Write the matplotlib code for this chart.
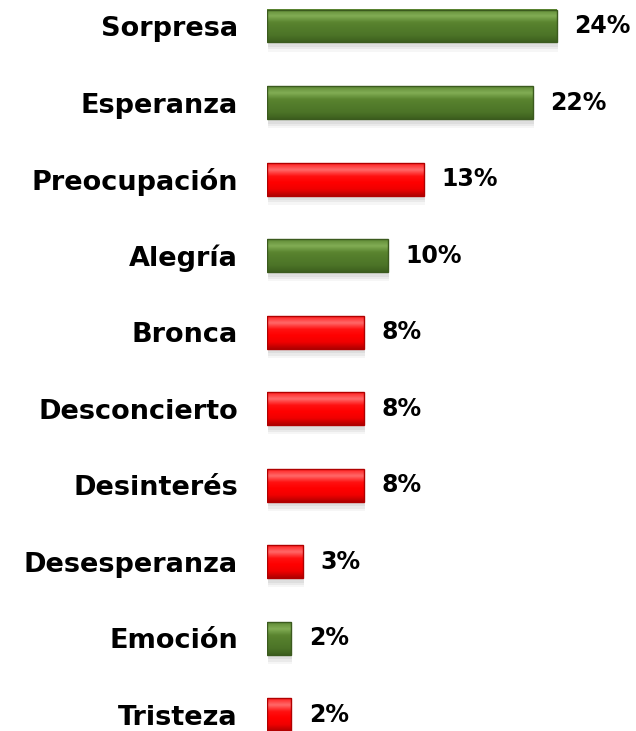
import numpy as np
import matplotlib.pyplot as plt
from matplotlib.colors import LinearSegmentedColormap

# datos
emociones = ["Sorpresa", "Esperanza", "Preocupación", "Alegría", "Bronca",
             "Desconcierto", "Desinterés", "Desesperanza", "Emoción", "Tristeza"]
porcentajes = [24, 22, 13, 10, 8, 8, 8, 3, 2, 2]
positiva = [True, True, False, True, False, False, False, False, True, False]

verde = ["#5f8a35", "#82ad55", "#5a842f", "#527b2b", "#4c7427", "#3d5f1e"]
rojo = ["#ff2020", "#ff6a6a", "#ff1010", "#ff0000", "#f00000", "#b00000"]

fig = plt.figure(figsize=(6.36, 7.31), dpi=100)
ax = fig.add_axes([267 / 636, 0, 1 - 267 / 636, 1])

y = np.arange(len(emociones))
alto = 0.43
bars = ax.barh(y, porcentajes, height=alto, color="none", edgecolor="none")

for b, pos in zip(bars, positiva):
    x0, y0, w, h = b.get_x(), b.get_y(), b.get_width(), b.get_height()
    # sombra
    for k, a in enumerate([0.35, 0.25, 0.15]):
        ax.add_patch(plt.Rectangle((x0 + 0.1, y0 + 0.06 + 0.03 * k), w, h,
                                   color="#c8c8c8", alpha=a, lw=0, zorder=1))
    cmap = LinearSegmentedColormap.from_list("g", verde if pos else rojo)
    grad = np.linspace(0, 1, 64).reshape(-1, 1)
    ax.imshow(grad, cmap=cmap, aspect="auto", extent=(x0, x0 + w, y0 + h, y0),
              zorder=2, interpolation="bicubic")
    ax.add_patch(plt.Rectangle((x0, y0), w, h, fill=False,
                               edgecolor="#3b5a1e" if pos else "#b00000",
                               lw=1.0, zorder=3))

for yi, v in zip(y, porcentajes):
    ax.text(v + 1.45, yi, f"{v}%", va="center", ha="left",
            fontsize=17, fontweight="bold", color="black")

ax.set_xlim(0, 369 / 12.08)
ax.set_ylim(9.21, -0.34)
ax.set_yticks(y)
ax.set_yticklabels(emociones, fontsize=19.5, fontweight="bold")
ax.tick_params(axis="y", length=0, pad=21)
ax.set_xticks([])
for s in ax.spines.values():
    s.set_visible(False)

fig.savefig("out.png", dpi=100)
